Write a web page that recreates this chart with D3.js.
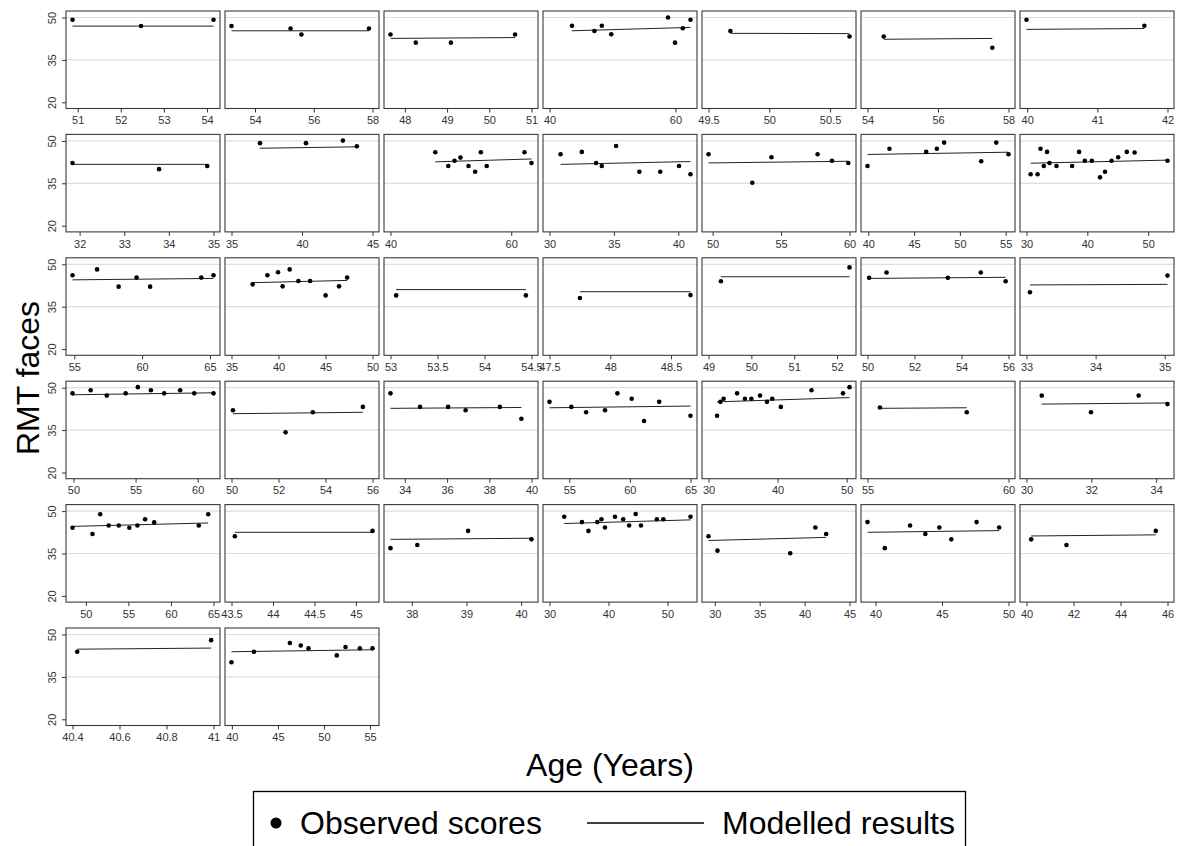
<!DOCTYPE html>
<html><head><meta charset="utf-8">
<script src="https://cdn.jsdelivr.net/npm/d3@7"></script>
<style>
body{margin:0;background:#fff;}
svg{display:block;font-family:"Liberation Sans",Arial,sans-serif;}
</style>
</head><body>
<svg id="chart" width="1178" height="846"></svg>
<script>
// ---------- data ----------
const yTicks = [20, 35, 50];
const yGrid = [35, 50];

const xTicks = [
  [51,52,53,54],[54,56,58],[48,49,50,51],[40,60],[49.5,50,50.5],[54,56,58],[40,41,42],
  [32,33,34,35],[35,40,45],[40,60],[30,35,40],[50,55,60],[40,45,50,55],[30,40,50],
  [55,60,65],[35,40,45,50],[53,53.5,54,54.5],[47.5,48,48.5],[49,50,51,52],[50,52,54,56],[33,34,35],
  [50,55,60],[50,52,54,56],[34,36,38,40],[55,60,65],[30,40,50],[55,60],[30,32,34],
  [50,55,60,65],[43.5,44,44.5,45],[38,39,40],[30,40,50],[30,35,40,45],[40,45,50],[40,42,44,46],
  [40.4,40.6,40.8,41],[40,45,50,55]
];

const ages = [
  [50.88,52.47,54.15],
  [53.2,55.21,55.58,57.88],
  [47.66,48.26,49.09,50.61],
  [43.57,47.14,48.31,49.81,58.83,59.94,61.17,62.4],
  [49.68,50.66],
  [54.46,57.54],
  [39.99,41.67],
  [31.84,33.78,34.86],
  [37.02,40.28,42.9,43.89],
  [47.42,49.57,50.61,51.59,52.93,54.03,54.96,55.94,62.2,63.36],
  [30.86,32.51,33.62,34.06,35.17,36.98,38.6,40.06,40.95],
  [49.7,52.9,54.3,57.67,58.72,59.91],
  [39.91,42.31,46.32,47.48,48.28,52.33,53.97,55.31],
  [30.68,31.82,32.3,32.84,33.38,33.78,34.93,37.5,38.65,39.59,40.74,42.09,42.91,43.99,45.07,46.49,47.77,53.18],
  [54.87,56.68,58.27,59.59,60.59,64.36,65.26],
  [37.25,38.82,39.95,40.44,41.19,42.12,43.36,45.01,46.44,47.3],
  [53.06,54.44],
  [47.75,48.66],
  [49.29,52.29],
  [50.07,50.81,53.42,54.82,55.88],
  [33.05,35.04],
  [49.92,51.38,52.68,54.2,55.18,56.23,57.3,58.59,59.72,61.27],
  [50.06,52.3,53.46,55.59],
  [33.32,34.72,36.05,36.88,38.5,39.52],
  [53.37,55.17,56.39,57.95,58.97,60.15,61.17,62.42,65.0],
  [31.24,31.72,32.19,34.14,35.27,36.21,37.46,38.46,39.23,40.47,44.91,49.47,50.41],
  [55.44,58.52],
  [30.47,31.99,33.46,34.35],
  [48.43,50.78,51.69,52.68,53.87,55.11,56.06,56.96,58.03,63.27,64.38],
  [43.54,45.2],
  [37.61,38.1,39.03,40.19],
  [32.5,35.5,36.6,38.1,38.8,39.4,41.1,42.5,43.5,44.6,45.5,48.2,49.3,53.9],
  [29.3,30.3,38.4,41.2,42.4],
  [39.4,40.7,42.6,43.75,44.8,45.7,47.6,49.3],
  [40.2,41.7,45.5],
  [40.42,40.99],
  [39.96,42.39,46.3,47.48,48.32,51.39,52.34,53.9,55.27]
];

const scores = [
  [49.2,47.0,49.2],
  [47.0,46.1,44.0,46.1],
  [44.0,41.1,41.1,44.0],
  [47.1,45.2,47.1,44.1,50.0,41.1,46.2,49.2],
  [45.2,43.3],
  [43.3,39.3],
  [49.2,47.1],
  [42.2,40.0,41.1],
  [49.2,49.2,50.1,48.1],
  [46.0,41.1,43.0,44.1,41.1,39.1,46.0,41.1,46.0,42.2],
  [45.3,46.1,42.2,41.1,48.2,39.1,39.1,41.1,38.2],
  [45.3,35.2,44.2,45.3,43.0,42.2],
  [41.1,47.2,46.1,47.2,49.4,42.8,49.4,45.3],
  [38.2,38.2,47.2,41.1,46.1,42.2,41.1,41.1,46.1,43.0,43.0,37.1,39.1,43.0,44.2,46.1,45.9,43.0],
  [46.1,48.2,42.1,45.3,42.1,45.3,46.1],
  [42.9,46.1,47.2,42.2,48.2,44.1,44.1,39.0,42.2,45.3],
  [39.0,39.0],
  [38.1,39.1],
  [44.0,48.9],
  [45.2,47.1,45.2,47.1,44.0],
  [40.1,46.0],
  [48.0,49.1,47.2,48.0,50.2,49.1,48.0,49.1,48.0,48.0],
  [42.0,34.2,41.3,43.2],
  [48.0,43.2,43.2,42.0,43.2,39.0],
  [45.0,43.2,41.3,42.0,48.0,46.1,38.2,45.0,40.1],
  [40.1,45.0,46.1,48.0,46.1,46.1,47.2,45.0,46.1,43.2,49.1,48.0,50.2],
  [43.0,41.3],
  [47.2,41.3,47.2,44.2],
  [44.1,41.9,48.9,44.9,44.9,44.1,44.9,47.1,46.0,44.9,48.9],
  [41.1,43.0],
  [36.9,38.0,43.0,40.0],
  [48.0,46.1,43.0,46.1,47.1,44.2,48.0,47.1,44.9,49.0,44.9,47.1,47.1,48.0],
  [41.1,36.0,35.1,44.2,41.9],
  [46.1,36.9,44.9,41.9,44.2,40.0,46.1,44.2],
  [40.0,38.0,43.0],
  [43.9,48.0],
  [40.2,43.9,47.0,46.1,45.1,42.6,45.6,45.1,45.1]
];

// modelled value at youngest and oldest age of each panel
const fitStart = [46.95,45.3,42.6,45.3,44.4,42.3,45.8, 41.7,47.4,42.6,41.7,42.2,45.2,42.1,
  44.5,43.5,41.05,40.3,45.6,45.0,42.7, 47.5,40.8,42.7,42.9,45.0,42.7,44.2,
  44.6,42.5,40.0,45.6,39.6,42.5,41.2, 44.8,43.9];
const fitEnd = [46.95,45.3,42.9,46.5,44.3,42.6,46.1, 41.7,47.9,43.6,42.7,42.8,46.0,43.2,
  45.0,44.3,41.05,40.3,45.6,45.4,42.9, 48.2,41.3,43.0,43.5,46.5,42.9,44.6,
  45.8,42.5,40.4,46.9,40.7,43.1,41.6, 45.2,44.6];

const xTitle = "Age (Years)";
const yTitle = "RMT faces";
const legendLabels = ["Observed scores", "Modelled results"];

// ---------- layout ----------
const svg = d3.select("#chart");
const nCols = 7;
const colStep = 159, colLeft0 = 66, panelW = 154;
const rowStep = 123.4, rowTop0 = 11, panelH = 97.5;
const padX = 6.5, padTop = 6.5, padBot = 6.2;
const ink = "#222", tickInk = "#333";

ages.forEach((ag, i) => {
  const r = Math.floor(i / nCols), c = i % nCols;
  const x0 = colLeft0 + c * colStep, y0 = rowTop0 + r * rowStep;
  const g = svg.append("g").attr("transform", `translate(${x0},${y0})`);
  const t = xTicks[i];
  const lo = Math.min(t[0], d3.min(ag)), hi = Math.max(t[t.length-1], d3.max(ag));
  const x = d3.scaleLinear().domain([lo, hi]).range([padX, panelW - padX]);
  const y = d3.scaleLinear().domain([20, 50]).range([panelH - padBot, padTop]);

  // gridlines
  g.selectAll(".grid").data(yGrid).join("line")
    .attr("x1", 0).attr("x2", panelW)
    .attr("y1", d => y(d)).attr("y2", d => y(d))
    .attr("stroke", "#dedede").attr("stroke-width", 1.2);

  // frame
  g.append("rect").attr("x", 0).attr("y", 0).attr("width", panelW).attr("height", panelH)
    .attr("fill", "none").attr("stroke", "#3a3a3a").attr("stroke-width", 1.1);

  // x axis
  const xa = g.append("g").attr("transform", `translate(0,${panelH})`)
    .call(d3.axisBottom(x).tickValues(t).tickSize(4).tickPadding(4)
      .tickFormat(d => d3.format("~g")(d)));
  xa.select(".domain").remove();
  xa.selectAll("line").attr("stroke", tickInk);
  xa.selectAll("text").attr("font-size", 11).attr("fill", tickInk)
    .attr("font-family", "'Liberation Sans', Arial, sans-serif");

  // y axis only on first column
  if (c === 0) {
    const ya = g.append("g").call(d3.axisLeft(y).tickValues(yTicks).tickSize(4).tickPadding(3));
    ya.select(".domain").remove();
    ya.selectAll("line").attr("stroke", tickInk);
    ya.selectAll("text").attr("font-size", 11).attr("fill", tickInk)
      .attr("font-family", "'Liberation Sans', Arial, sans-serif")
      .attr("text-anchor", "middle").attr("dy", null)
      .attr("x", 0).attr("y", 0).attr("dominant-baseline", "central")
      .attr("transform", "translate(-14,0) rotate(-90)");
  }

  // modelled line
  const lx = [d3.min(ag), d3.max(ag)];
  g.append("line")
    .attr("x1", x(lx[0])).attr("x2", x(lx[1]))
    .attr("y1", y(fitStart[i])).attr("y2", y(fitEnd[i]))
    .attr("stroke", ink).attr("stroke-width", 1);

  // observed points
  g.selectAll(".pt").data(ag.map((a, k) => [a, scores[i][k]])).join("circle")
    .attr("cx", d => x(d[0])).attr("cy", d => y(d[1])).attr("r", 2.3).attr("fill", "#000");
});

// titles
svg.append("text").attr("x", 610).attr("y", 765).attr("text-anchor", "middle")
  .attr("dominant-baseline", "central").attr("font-size", 32).attr("fill", "#000").text(xTitle);
svg.append("text").attr("transform", "translate(28,378) rotate(-90)").attr("text-anchor", "middle")
  .attr("dominant-baseline", "central").attr("font-size", 32).attr("fill", "#000").text(yTitle);

// legend
const lg = svg.append("g");
lg.append("rect").attr("x", 253.5).attr("y", 791.5).attr("width", 712).attr("height", 80)
  .attr("fill", "#fff").attr("stroke", "#000").attr("stroke-width", 1.3);
lg.append("circle").attr("cx", 276).attr("cy", 823).attr("r", 5.5).attr("fill", "#000");
lg.append("text").attr("x", 300).attr("y", 823).attr("dominant-baseline", "central")
  .attr("font-size", 32).attr("fill", "#000").text(legendLabels[0]);
lg.append("line").attr("x1", 587).attr("x2", 704).attr("y1", 823).attr("y2", 823)
  .attr("stroke", "#000").attr("stroke-width", 1.6);
lg.append("text").attr("x", 722).attr("y", 823).attr("dominant-baseline", "central")
  .attr("font-size", 32).attr("fill", "#000").text(legendLabels[1]);
</script>
</body></html>
